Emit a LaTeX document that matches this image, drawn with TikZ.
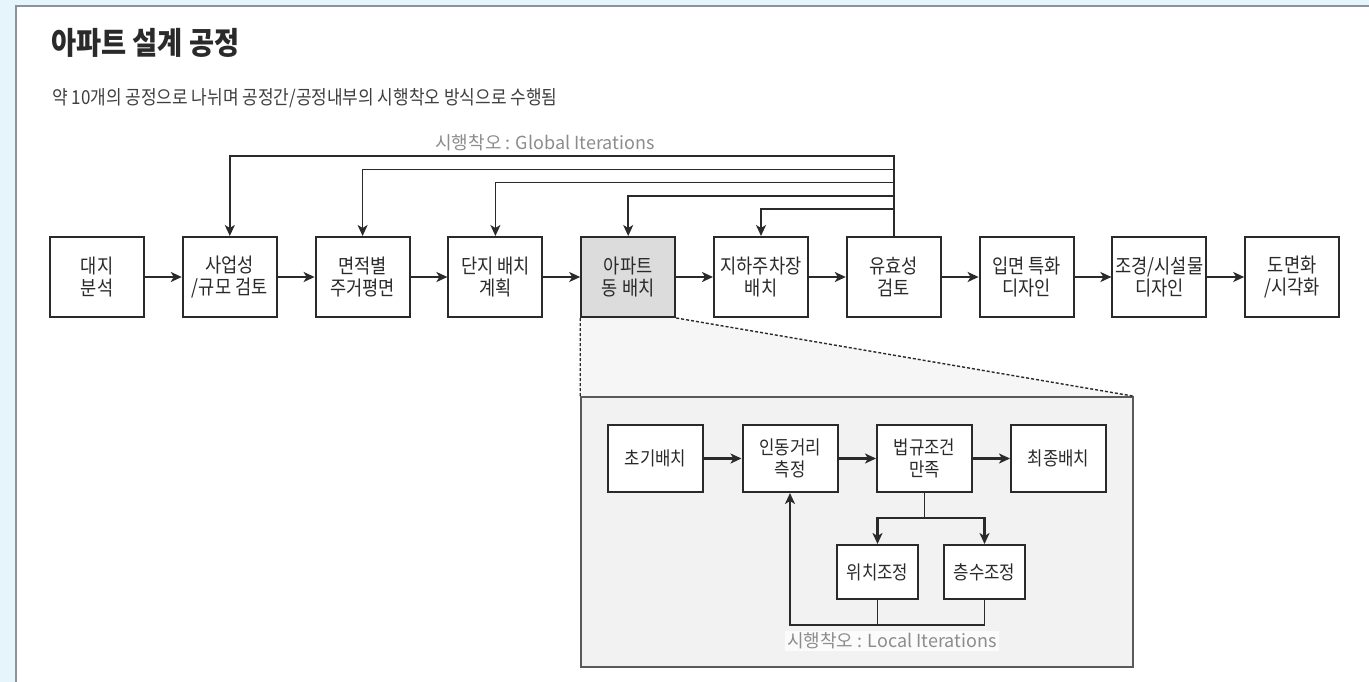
\documentclass[tikz,border=0pt]{standalone}
\usepackage{fontspec}
\setmainfont{Noto Sans CJK KR}
\newfontfamily\narrowkr[FakeStretch=0.88]{Noto Sans CJK KR}
\usetikzlibrary{arrows.meta}

\definecolor{pageblue}{HTML}{E6F5FC}
\definecolor{panelline}{HTML}{8E9296}
\definecolor{ink}{HTML}{2A2A2A}
\definecolor{note}{HTML}{8C8C8C}
\definecolor{activefill}{HTML}{DCDCDC}
\definecolor{detailfill}{HTML}{F2F2F2}
\definecolor{detailline}{HTML}{5A5A5A}

\pgfdeclarelayer{back}
\pgfsetlayers{back,main}

\tikzset{
  boxfont/.style={font=\narrowkr\fontsize{20bp}{22bp}\selectfont},
  subfont/.style={font=\narrowkr\fontsize{19bp}{22bp}\selectfont},
  stagebox/.style={draw=ink, line width=2bp, fill=white, text=ink,
    minimum width=94bp, minimum height=80bp, inner sep=0pt, align=center, boxfont},
  activebox/.style={stagebox, fill=activefill},
  substep/.style={draw=ink, line width=2bp, fill=white, text=ink,
    minimum width=95bp, minimum height=67bp, inner sep=0pt, align=center, subfont},
  tweakbox/.style={substep, minimum width=81bp, minimum height=54bp},
  tipshape/.style={-{Stealth[length=11bp,width=10bp,inset=3bp]}},
  flow/.style={draw=ink, line width=2.2bp, tipshape},
  feedback/.style={draw=ink, line width=1.6bp, tipshape},
  link/.style={draw=ink, line width=1.7bp},
  looparrow/.style={draw=ink, line width=1.7bp, tipshape},
  zoomline/.style={draw=ink, line width=1.4bp, dash pattern=on 3bp off 2bp},
  detailbox/.style={draw=detailline, line width=1.6bp, fill=detailfill,
    minimum width=552bp, minimum height=270bp, inner sep=0pt},
  itertext/.style={text=note, font=\fontsize{18bp}{22bp}\selectfont, inner sep=2bp},
}

\begin{document}
\begin{tikzpicture}[x=1bp, y=-1bp]
\useasboundingbox (0,0) rectangle (1369,682);

% page background and white panel
\begin{pgfonlayer}{back}
  \fill[pageblue] (0,0) rectangle (1369,682);
  \fill[white] (16,6) rectangle (1369,682);
  \draw[panelline, line width=2bp] (16,682) -- (16,6) -- (1369,6);
\end{pgfonlayer}

% heading
\node[anchor=west, inner sep=0pt, text=ink,
  font=\narrowkr\fontsize{31bp}{36bp}\selectfont\bfseries] (title) at (51,43) {아파트 설계 공정};
\node[anchor=west, inner sep=0pt, text=ink!90,
  font=\narrowkr\fontsize{19.3bp}{23bp}\selectfont] (subtitle) at (52,98)
  {약 10개의 공정으로 나뉘며 공정간/공정내부의 시행착오 방식으로 수행됨};

% main process chain
\node[stagebox]  (b1)  at (97,277)     {대지\\분석};
\node[stagebox]  (b2)  at (229.8,277)  {사업성\\/규모 검토};
\node[stagebox]  (b3)  at (362.6,277)  {면적별\\주거평면};
\node[stagebox]  (b4)  at (495.4,277)  {단지 배치\\계획};
\node[activebox] (b5)  at (628.2,277)  {아파트\\동 배치};
\node[stagebox]  (b6)  at (761,277)    {지하주차장\\배치};
\node[stagebox]  (b7)  at (893.8,277)  {유효성\\검토};
\node[stagebox]  (b8)  at (1026.6,277) {입면 특화\\디자인};
\node[stagebox]  (b9)  at (1159.4,277) {조경/시설물\\디자인};
\node[stagebox]  (b10) at (1292.2,277) {도면화\\/시각화};

\draw[flow] (b1) -- (b2);
\draw[flow] (b2) -- (b3);
\draw[flow] (b3) -- (b4);
\draw[flow] (b4) -- (b5);
\draw[flow] (b5) -- (b6);
\draw[flow] (b6) -- (b7);
\draw[flow] (b7) -- (b8);
\draw[flow] (b8) -- (b9);
\draw[flow] (b9) -- (b10);

% global iteration loops back from the validity check
\node[itertext] (globallabel) at (545,143) {시행착오 : Global Iterations};
\coordinate (g1) at (0,156);
\coordinate (g2) at (0,169.3);
\coordinate (g3) at (0,182.6);
\coordinate (g4) at (0,195.9);
\coordinate (g5) at (0,209.2);
\draw[feedback] (b7.north) |- (b2.north |- g1) -- (b2.north);
\draw[feedback] (b7.north) |- (b3.north |- g2) -- (b3.north);
\draw[feedback] (b7.north) |- (b4.north |- g3) -- (b4.north);
\draw[feedback] (b7.north) |- (b5.north |- g4) -- (b5.north);
\draw[feedback] (b7.north) |- (b6.north |- g5) -- (b6.north);

% detail of the building placement step
\node[detailbox] (det) at (857,532) {};
\begin{pgfonlayer}{back}
  \fill[detailfill!70] (b5.south west) -- (b5.south east) -- (det.north east) -- (det.north west) -- cycle;
\end{pgfonlayer}
\draw[zoomline] (b5.south west) -- (det.north west);
\draw[zoomline] (b5.south east) -- (det.north east);

\node[substep]  (i1) at (655.5,458.5)  {초기배치};
\node[substep]  (i2) at (790,458.5)    {인동거리\\측정};
\node[substep]  (i3) at (924.5,458.5)  {법규조건\\만족};
\node[substep]  (i4) at (1058.5,458.5) {최종배치};
\node[tweakbox] (i5) at (877.5,572)    {위치조정};
\node[tweakbox] (i6) at (984.5,572)    {층수조정};

\draw[flow] (i1) -- (i2);
\draw[flow] (i2) -- (i3);
\draw[flow] (i3) -- (i4);

\coordinate (split) at (0,518);
\draw[link] (i3.south) -- (i3.south |- split);
\draw[flow] (i3.south |- split) -| (i5.north);
\draw[flow] (i3.south |- split) -| (i6.north);

% local iteration loop
\coordinate (loopy) at (0,625);
\draw[link] (i6.south) |- (i5.south |- loopy);
\draw[looparrow] (i5.south) |- (i2.south |- loopy) -- (i2.south);
\node[itertext, fill=white, fill opacity=0.75, text opacity=1] (locallabel) at (892,641)
  {시행착오 : Local Iterations};

\end{tikzpicture}
\end{document}
